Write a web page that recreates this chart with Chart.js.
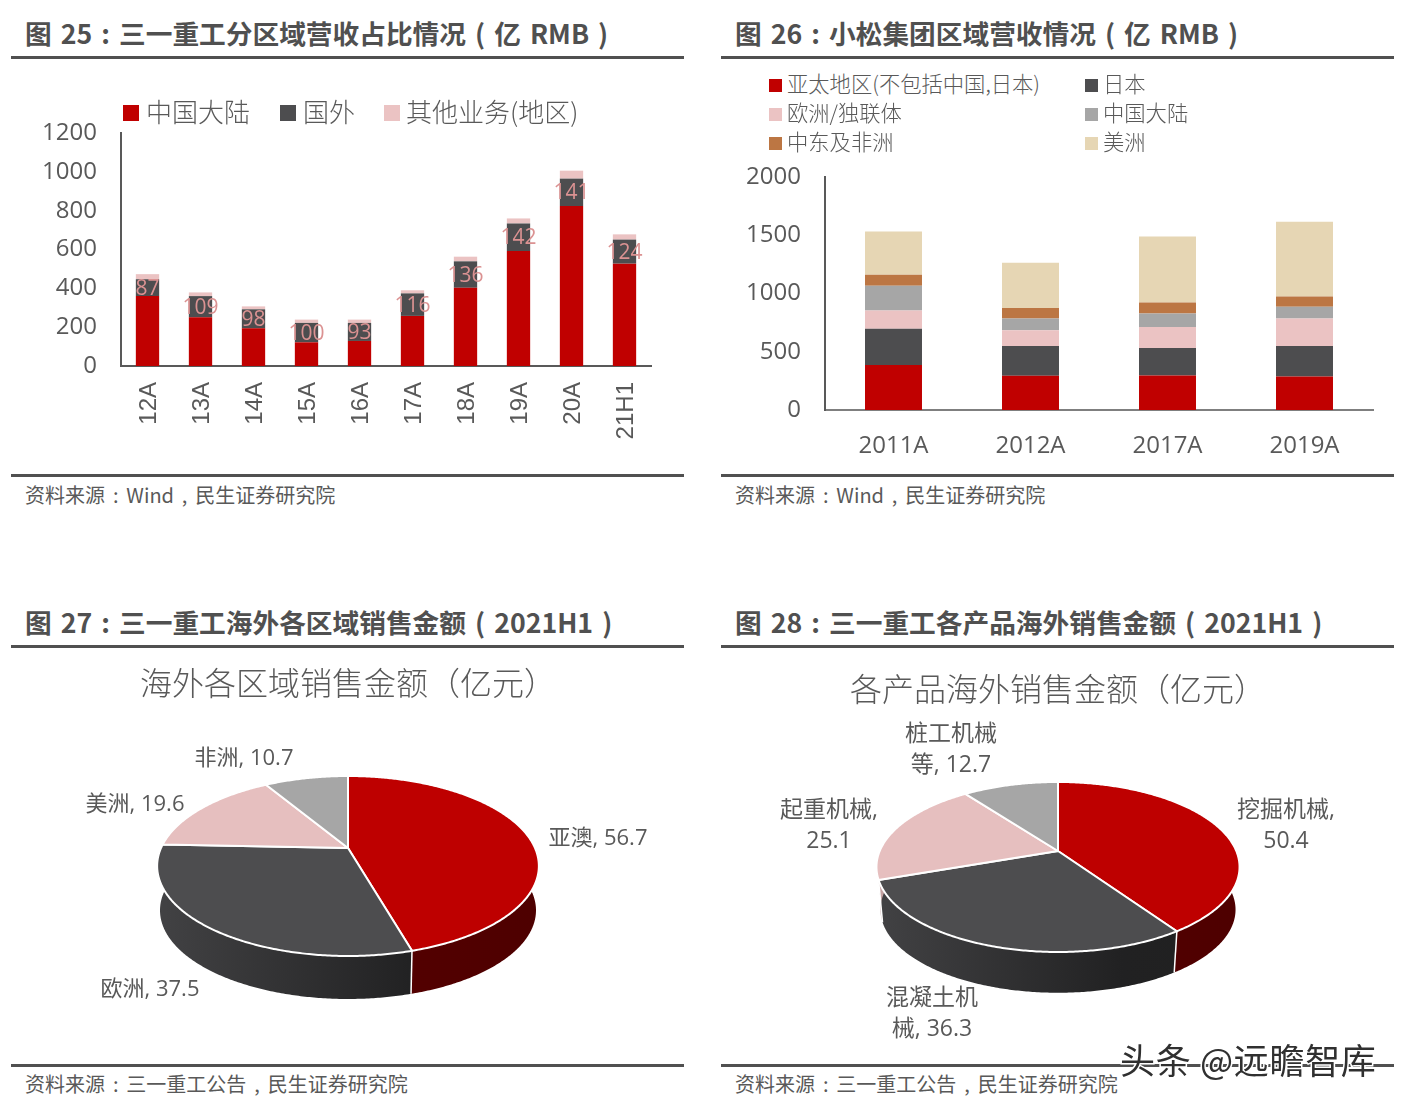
<!DOCTYPE html>
<html lang="zh">
<head>
<meta charset="utf-8">
<title>三一重工与小松集团区域营收</title>
<script src="https://cdn.jsdelivr.net/npm/chart.js@4"></script>
<style>
html,body{margin:0;padding:0;background:#fff;}
body{width:1408px;height:1109px;position:relative;overflow:hidden;font-family:"Noto Sans CJK SC","Noto Sans",sans-serif;}
canvas{position:absolute;display:block;}
.head,.foot,.leg,.mark{position:absolute;white-space:nowrap;}
.head{font-size:26.7px;font-weight:700;color:#505050;line-height:34px;word-spacing:3px;}
.foot{font-size:20px;color:#595959;line-height:28px;word-spacing:3.4px;}
.rule{position:absolute;height:3px;width:673px;background:#505050;}
.leg{color:#595959;font-weight:300;line-height:30px;}
.box{position:absolute;}
.mark{left:1120px;top:1036px;font-size:35px;line-height:46px;letter-spacing:.7px;color:#303030;-webkit-text-stroke:3px #fff;paint-order:stroke fill;z-index:5;}
</style>
</head>
<body>
<canvas id="c1"></canvas><canvas id="c2"></canvas><canvas id="c3"></canvas><canvas id="c4"></canvas>
<script>
// ---------- data ----------
const years25 = ['12A','13A','14A','15A','16A','17A','18A','19A','20A','21H1'];
const mainland25 = [360,251,194,122,129,258,403,592,824,527];
const overseas25 = [87,109,98,100,93,116,136,142,141,124];
const other25 = [26,19,15,17,17,16,24,26,41,27];
const names25 = ['中国大陆','国外','其他业务(地区)'];

const years26 = ['2011A','2012A','2017A','2019A'];
const apac26 = [387,293,296,288];
const japan26 = [311,257,237,262];
const europe26 = [157,134,179,236];
const china26 = [211,102,117,100];
const mideast26 = [96,89,94,88];
const america26 = [371,390,567,641];
const names26 = ['亚太地区(不包括中国,日本)','日本','欧洲/独联体','中国大陆','中东及非洲','美洲'];

const regions27 = ['亚澳','欧洲','美洲','非洲'];
const sales27 = [56.7,37.5,19.6,10.7];
const products28 = ['挖掘机械','混凝土机械','起重机械','桩工机械等'];
const sales28 = [50.4,36.3,25.1,12.7];

// ---------- style & layout ----------
const RED='#C00000',DARK='#4D4D4F',PINK='#EBC3C3',GRAY='#A6A6A6',BROWN='#BC7643',BEIGE='#E6D6B4';
const TXT='#595959';
const LATIN='"Open Sans","Noto Sans","Noto Sans CJK SC",sans-serif';
const CJK='"Open Sans","Noto Sans CJK SC",sans-serif';

const heads=[
 {t:'图 25 : 三一重工分区域营收占比情况 ( 亿 RMB )',x:25,y:16},
 {t:'图 26 : 小松集团区域营收情况 ( 亿 RMB )',x:735,y:16},
 {t:'图 27 : 三一重工海外各区域销售金额 ( 2021H1 )',x:25,y:605},
 {t:'图 28 : 三一重工各产品海外销售金额 ( 2021H1 )',x:735,y:605}];
const foots=[
 {t:'资料来源 : Wind , 民生证券研究院',x:25,y:481},
 {t:'资料来源 : Wind , 民生证券研究院',x:735,y:481},
 {t:'资料来源 : 三一重工公告 , 民生证券研究院',x:25,y:1070},
 {t:'资料来源 : 三一重工公告 , 民生证券研究院',x:735,y:1070}];
const rules=[[11,56],[721,56],[11,474],[721,474],[11,645],[721,645],[11,1064],[721,1064]];
function add(cls,t,x,y,z){const d=document.createElement('div');d.className=cls;d.textContent=t;d.style.left=x+'px';d.style.top=y+'px';if(z)d.style.zIndex=z;document.body.appendChild(d);return d;}
heads.forEach(h=>add('head',h.t,h.x,h.y));
foots.forEach(f=>add('foot',f.t,f.x,f.y));
rules.forEach(r=>add('rule','',r[0],r[1]));
const mark=document.createElement('div');mark.className='mark';mark.textContent='头条 @远瞻智库';document.body.appendChild(mark);

function legend(names,colors,spots,size,box){
  names.forEach((n,i)=>{
    const s=spots[i];
    const l=add('leg',n,s[0]+box+s[2],s[1]-17);l.style.fontSize=size+'px';
    const b=document.createElement('div');b.className='box';
    b.style.cssText+=`left:${s[0]}px;top:${s[1]-box/2}px;width:${box}px;height:${box}px;background:${colors[i]};`;
    document.body.appendChild(b);
  });
}
legend(names25,[RED,DARK,PINK],[[123,113,7],[280,113,7],[384,113,6]],26,16);
legend(names26,[RED,DARK,PINK,GRAY,BROWN,BEIGE],
  [[769,85,5],[1085,85,5],[769,114,5],[1085,114,5],[769,143,5],[1085,143,5]],21.3,13);

function place(id,left,top,w,h){const c=document.getElementById(id);c.width=w;c.height=h;c.style.left=left+'px';c.style.top=top+'px';c.style.width=w+'px';c.style.height=h+'px';return c;}

// value labels centred in the "overseas" segment of chart 25
const segLabels={id:'segLabels',afterDatasetsDraw(ch){
  const meta=ch.getDatasetMeta(1),ctx=ch.ctx;
  ctx.save();ctx.font='21px '+LATIN;ctx.fillStyle='#DB9292';ctx.textAlign='center';ctx.textBaseline='middle';
  meta.data.forEach((el,i)=>{ctx.fillText(String(ch.data.datasets[1].data[i]),el.x,(el.y+el.base)/2+1);});
  ctx.restore();
}};

function barOpts(cfg){return{
  responsive:false,animation:false,
  layout:{padding:{top:cfg.top,right:cfg.right,left:0,bottom:0}},
  plugins:{legend:{display:false},title:{display:false},tooltip:{enabled:false}},
  scales:{
    x:{stacked:true,grid:{display:false,drawTicks:false},border:{color:cfg.xColor,width:2},
       ticks:{color:TXT,font:{size:cfg.xSize,family:cfg.xFamily},padding:cfg.xPad,minRotation:cfg.rot,maxRotation:cfg.rot,autoSkip:false,labelOffset:cfg.xOff},
       afterFit(s){s.height=cfg.xH;}},
    y:{stacked:true,min:0,max:cfg.max,grid:{display:false,drawTicks:false},border:{color:cfg.yColor,width:2},
       ticks:{color:TXT,font:{size:24,family:LATIN},padding:cfg.yPad,stepSize:cfg.step,callback:v=>String(v)},
       afterFit(s){s.width=cfg.yW;}}
  }};}
function ds(label,data,color,pct){return{label,data,backgroundColor:color,barPercentage:pct,categoryPercentage:1,borderWidth:0};}

place('c1',11,60,673,410);
new Chart(document.getElementById('c1'),{type:'bar',
  data:{labels:years25,datasets:[ds(names25[0],mainland25,RED,.44),ds(names25[1],overseas25,DARK,.44),ds(names25[2],other25,PINK,.44)]},
  options:barOpts({top:73,right:33,xH:104,yW:110,max:1200,step:200,rot:90,xSize:24,xFamily:'"Liberation Sans",Arial,sans-serif',xPad:16,xOff:2,yPad:24,xColor:'#595959',yColor:'#595959'}),
  plugins:[segLabels]});

place('c2',721,110,673,365);
new Chart(document.getElementById('c2'),{type:'bar',
  data:{labels:years26,datasets:[ds(names26[0],apac26,RED,.416),ds(names26[1],japan26,DARK,.416),ds(names26[2],europe26,PINK,.416),ds(names26[3],china26,GRAY,.416),ds(names26[4],mideast26,BROWN,.416),ds(names26[5],america26,BEIGE,.416)]},
  options:barOpts({top:67,right:21,xH:65,yW:104,max:2000,step:500,rot:0,xSize:24,xFamily:LATIN,xPad:22,xOff:0,yPad:24,xColor:'#7F7F7F',yColor:'#595959'})});

// ---------- tilted pies: angles come from the library's arc elements ----------
function shade(hex,f){const n=parseInt(hex.slice(1),16);return`rgb(${Math.round((n>>16&255)*f)},${Math.round((n>>8&255)*f)},${Math.round((n&255)*f)})`;}
function rimPoint(view,x0,y0,ang){
  const u=Math.cos(ang),v=Math.sin(ang),d=1+view.p*v;
  return{x:x0+view.a*u/d,y:y0+view.k*v/d,v};
}
const tiltPie={id:'tiltPie',
  beforeDatasetDraw(ch,args,opts){
    const meta=ch.getDatasetMeta(args.index),ctx=ch.ctx,view=opts.view,colors=ch.data.datasets[args.index].backgroundColor;
    const arcs=meta.data,x0=arcs[0].x,y0=arcs[0].y;
    const low=p=>({x:x0+(p.x-x0)*view.s,y:y0+(p.y-y0)*view.s+view.depth,v:p.v});
    const samples=el=>{const n=Math.max(8,Math.ceil((el.endAngle-el.startAngle)/0.01)),o=[];for(let i=0;i<=n;i++)o.push(rimPoint(view,x0,y0,el.startAngle+(el.endAngle-el.startAngle)*i/n));return o;};
    ctx.save();
    // side wall
    arcs.forEach((el,i)=>{
      const pts=samples(el).filter(p=>p.v>-0.3);if(pts.length<2)return;
      const g=ctx.createLinearGradient(x0-view.a*1.02,0,x0+view.a*1.02,0);
      g.addColorStop(0,shade(colors[i],.86));g.addColorStop(.68,shade(colors[i],.43));g.addColorStop(1,shade(colors[i],.41));
      ctx.beginPath();pts.forEach((p,j)=>j?ctx.lineTo(p.x,p.y):ctx.moveTo(p.x,p.y));
      pts.slice().reverse().forEach(p=>{const q=low(p);ctx.lineTo(q.x,q.y);});ctx.closePath();
      ctx.fillStyle=g;ctx.fill();
    });
    // wall seams
    ctx.strokeStyle='#fff';ctx.lineWidth=1.5;
    arcs.forEach(el=>{const p=rimPoint(view,x0,y0,el.endAngle);if(p.v>0.3){const q=low(p);ctx.beginPath();ctx.moveTo(p.x,p.y);ctx.lineTo(q.x,q.y);ctx.stroke();}});
    // top face
    ctx.lineJoin='round';ctx.lineWidth=2;
    arcs.forEach((el,i)=>{
      ctx.beginPath();ctx.moveTo(x0,y0);samples(el).forEach(p=>ctx.lineTo(p.x,p.y));ctx.closePath();
      ctx.fillStyle=colors[i];ctx.fill();ctx.stroke();
    });
    ctx.restore();
    return false;
  },
  afterDraw(ch,args,opts){
    const ctx=ch.ctx;ctx.save();ctx.fillStyle=TXT;ctx.textBaseline='middle';ctx.textAlign='center';ctx.font=opts.labelFont;
    opts.labels.forEach(l=>l.lines.forEach((t,j)=>ctx.fillText(t,l.x,l.y+j*l.gap)));
    ctx.restore();
  }
};
function pie(id,left,top,w,h,names,vals,title,titleTop,pad,view,labels,labelFont){
  place(id,left,top,w,h);
  const abs=labels.map(l=>({...l,x:l.x-left,y:l.y-top}));
  new Chart(document.getElementById(id),{type:'pie',
    data:{labels:names,datasets:[{data:vals,backgroundColor:['#BE0000','#4D4D4F','#E6BFBF','#A6A6A6'],borderWidth:0}]},
    options:{responsive:false,animation:false,layout:{padding:pad},
      plugins:{legend:{display:false},tooltip:{enabled:false},
        title:{display:true,text:title,color:TXT,font:{size:32,weight:'300',family:'"Noto Sans CJK SC",sans-serif'},padding:{top:titleTop,bottom:0}},
        tiltPie:{view,labels:abs,labelFont}}},
    plugins:[tiltPie]});
}
const txt=(names,vals,i)=>names[i]+', '+vals[i];
pie('c3',3,650,681,400,regions27,sales27,'海外各区域销售金额（亿元）',14,{left:9,right:0,top:0,bottom:56.4},
  {a:187,k:86.4,p:-0.2,s:.985,depth:44.6},
  [{lines:[txt(regions27,sales27,0)],x:598,y:839,gap:0},{lines:[txt(regions27,sales27,1)],x:150,y:990,gap:0},
   {lines:[txt(regions27,sales27,2)],x:135,y:805,gap:0},{lines:[txt(regions27,sales27,3)],x:244,y:759,gap:0}],
  '22px '+CJK);
pie('c4',711,650,680,400,products28,sales28,'各产品海外销售金额（亿元）',20,{left:14,right:0,top:0,bottom:56.4},
  {a:178.3,k:82,p:-0.188,s:.978,depth:43},
  [{lines:[products28[0]+',',String(sales28[0])],x:1286,y:810,gap:31},{lines:['混凝土机','械, '+sales28[1]],x:932,y:998,gap:31},
   {lines:[products28[2]+',',String(sales28[2])],x:829,y:810,gap:31},{lines:['桩工机械','等, '+sales28[3]],x:951,y:734,gap:31}],
  '23px '+CJK);
</script>
</body>
</html>
